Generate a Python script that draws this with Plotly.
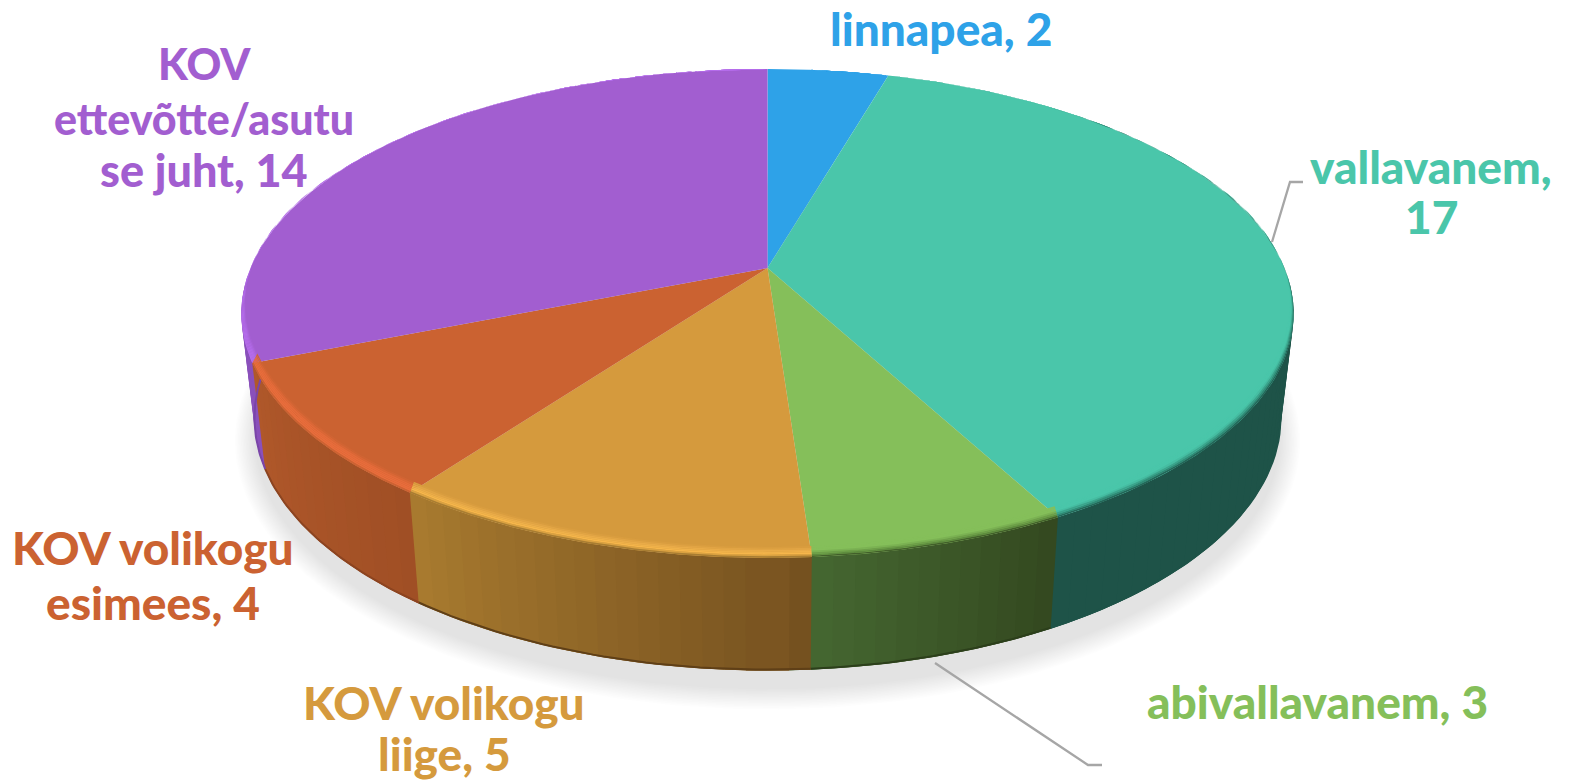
import numpy as np
import plotly.graph_objects as go

categories = ["linnapea", "vallavanem", "abivallavanem", "KOV volikogu liige", "KOV volikogu esimees", "KOV ettevõtte/asutuse juht"]
values = [2, 17, 3, 5, 4, 14]
label_texts = ["linnapea, 2", "vallavanem,", "17", "abivallavanem, 3", "KOV volikogu", "liige, 5",
               "KOV volikogu", "esimees, 4", "KOV", "ettevõtte/asutu", "se juht, 14"]
label_slice = [0, 1, 1, 2, 3, 3, 4, 4, 5, 5, 5]

face_colors = ["#2ea2e8", "#4ac6aa", "#85bf5a", "#d59a3d", "#cb6231", "#a25ed0"]
side_start = ["#1e5348", "#1e5348", "#33481f", "#74501f", "#a04f25", "#8a50bb"]
side_end = ["#1e5348", "#1e5348", "#456731", "#a97b2f", "#b0582a", "#8a50bb"]
bottom_edge = ["#1e5348", "#1e5348", "#2c3f1b", "#5f3f17", "#8c4420", "#7a45a8"]
bevel_stops = [
    [(0, "#2ea2e8"), (1, "#2ea2e8")],
    [(0, "#4ac6aa"), (.45, "#4ac6aa"), (.8, "#2f8874"), (1, "#1e5348")],
    [(0, "#85bf5a"), (.4, "#85bf5a"), (.8, "#5d8a3d"), (1, "#33481f")],
    [(0, "#d59a3d"), (.35, "#e9ab48"), (.7, "#f8b84c"), (1, "#8f6a2a")],
    [(0, "#cb6231"), (.4, "#e76c3b"), (.85, "#e86d3c"), (1, "#b5592b")],
    [(0, "#a25ed0"), (.45, "#b46cea"), (1, "#b66eec")],
]
label_xy = [(941, 28), (1431, 166), (1431, 216), (1317, 701), (444, 702), (444, 753),
            (153, 547), (153, 602), (204, 63), (204, 118), (204, 170)]
label_size = [46, 46, 46, 46, 46, 46, 46, 46, 43, 43, 45]
leaders = [([1272, 1290, 1303], [242, 182, 182]), ([935, 1088, 1102], [663, 765, 765])]

FONT = "Lato"
CX, CY, A, B, K = 767.5, 268.0, 517.0, 236.0, 0.186


def top(theta):
    t = np.radians(theta)
    u, v = np.sin(t), np.cos(t)
    w = 1 + K * v
    return CX + A * u / w, CY - B * v / w


def bottom(theta):
    x, y = top(theta)
    return CX + 0.975 * (x - CX), 372 + 1.03 * (y - CY)


def rim(theta, amount):
    x, y = top(theta)
    f = np.clip((0.5 - np.cos(np.radians(theta))) / 1.0, 0, 1)
    return CX + (x - CX) * (1 - 0.011 * f * amount), y - 11 * f * amount


def h2r(c):
    return np.array([int(c[i:i + 2], 16) for i in (1, 3, 5)], dtype=float)


def mix(a, b, t):
    r = h2r(a) * (1 - t) + h2r(b) * t
    return "rgb(%d,%d,%d)" % tuple(r.round())


def stop_color(stops, t):
    for (t0, c0), (t1, c1) in zip(stops, stops[1:]):
        if t <= t1:
            return mix(c0, c1, (t - t0) / max(t1 - t0, 1e-6))
    return stops[-1][1]


def poly(fig, x, y, color):
    fig.add_trace(go.Scatter(x=list(x), y=list(y), mode="lines", fill="toself", fillcolor=color,
                             line=dict(width=0), hoverinfo="skip", showlegend=False))


fig = go.Figure()
edges = np.concatenate([[0], np.cumsum(values)]) / sum(values) * 360.0
all_t = np.linspace(0, 360, 361)

# soft ground shadow
bx, by = bottom(all_t)
for grow in np.linspace(20, 0, 14):
    sx = CX + (bx - CX) * (1 + grow / 520)
    sy = 385 + (by - 372) * (1 + grow / 300) + 6
    poly(fig, sx, sy, "rgba(0,0,0,0.009)")

# side wall, painted from the flanks toward the front; every strip runs on under the next one
t_side = np.arange(92, 268.01, 2.0)
for group, step in ((t_side[t_side < 180], 2.0), (t_side[t_side > 180][::-1], -2.0)):
    for t0 in group:
        t1 = t0 + step
        tm = (t0 + t1) / 2
        i = int(np.searchsorted(edges, tm) - 1)
        frac = (tm - edges[i]) / (edges[i + 1] - edges[i])
        c = mix(side_start[i], side_end[i], frac)
        seg = np.array([t0, t1 + step])
        tx, ty = top(seg)
        ox, oy = bottom(seg)
        poly(fig, [tx[0], tx[1], ox[1], ox[0]], [ty[0], ty[1], oy[1], oy[0]], c)

# darker bottom edge of the wall
for i in range(len(values)):
    a, b = max(edges[i], 92), min(edges[i + 1], 268)
    if b > a:
        ts = np.linspace(a, b, 40)
        ox, oy = bottom(ts)
        fig.add_trace(go.Scatter(x=ox, y=oy - 1, mode="lines", line=dict(color=bottom_edge[i], width=2),
                                 hoverinfo="skip", showlegend=False))

# top face
for i in range(len(values)):
    ts = np.linspace(edges[i], edges[i + 1], 120)
    x, y = top(ts)
    poly(fig, np.r_[CX, x, CX], np.r_[CY, y, CY], face_colors[i])

# bevel along the rim
N = 7
for i in range(len(values)):
    ts = np.linspace(edges[i], edges[i + 1], 100)
    for j in range(N):
        a0, a1 = 1 - j / N, 1 - (j + 1) / N
        x0, y0 = rim(ts, a0)
        x1, y1 = rim(ts, a1)
        poly(fig, np.r_[x0, x1[::-1]], np.r_[y0, y1[::-1]], stop_color(bevel_stops[i], (j + .5) / N))

# leader lines
for lx, ly in leaders:
    fig.add_trace(go.Scatter(x=lx, y=ly, mode="lines", line=dict(color="#a6a6a6", width=2.3),
                             hoverinfo="skip", showlegend=False))

for text, (x, y), s, i in zip(label_texts, label_xy, label_size, label_slice):
    fig.add_annotation(x=x, y=y, text=text, showarrow=False, xanchor="center", yanchor="middle",
                       font=dict(family=FONT, size=s, color=face_colors[i], weight=900))

fig.update_layout(width=1569, height=781, margin=dict(l=0, r=0, t=0, b=0), showlegend=False,
                  paper_bgcolor="white", plot_bgcolor="white",
                  xaxis=dict(range=[0, 1569], visible=False, fixedrange=True),
                  yaxis=dict(range=[781, 0], visible=False, fixedrange=True))
fig.write_html("out.html", config=dict(displayModeBar=False),
               post_script="document.body.style.margin='0';document.documentElement.style.overflow='hidden';")
